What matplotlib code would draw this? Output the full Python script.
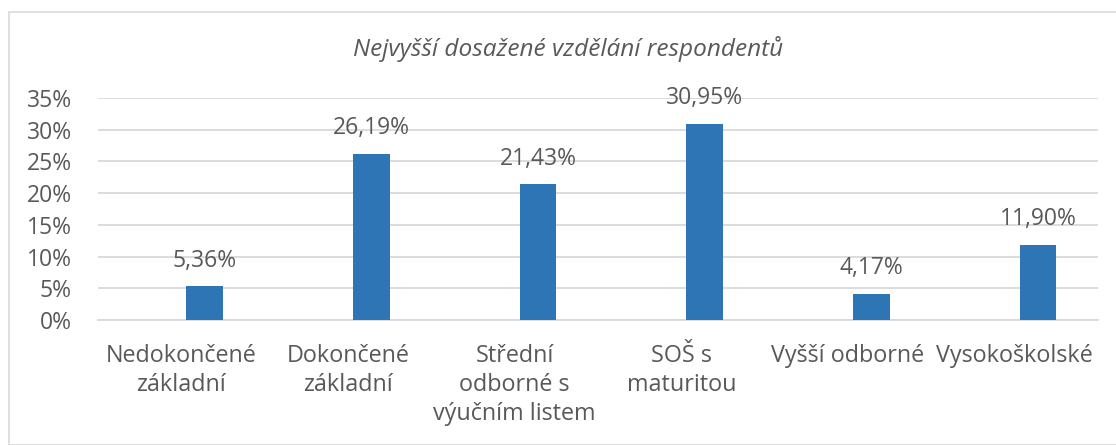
import matplotlib
matplotlib.use("Agg")
import matplotlib.pyplot as plt
from matplotlib.patches import Rectangle

plt.rcParams['font.family'] = ['Open Sans', 'DejaVu Sans']

categories = ["Nedokončené\nzákladní", "Dokončené\nzákladní", "Střední\nodborné s\nvýučním listem",
              "SOŠ s\nmaturitou", "Vyšší odborné", "Vysokoškolské"]
values = [5.36, 26.19, 21.43, 30.95, 4.17, 11.90]
yticks = [0, 5, 10, 15, 20, 25, 30, 35]
title = "Nejvyšší dosažené vzdělání respondentů"

text_col = "#595959"
bar_col = "#2E75B6"
grid_col = "#D9D9D9"

fig = plt.figure(figsize=(11.16, 4.45), dpi=100)
fig.patches.append(Rectangle((9 / 1116, 0), 2, 1 - 12 / 445, transform=fig.transFigure,
                             fill=False, edgecolor="#D9D9D9", linewidth=1.2))
ax = fig.add_axes([98 / 1116, 1 - 320 / 445, 1000 / 1116, 222 / 445])

x = list(range(len(values)))
xb = [i + 0.14 for i in x]
ax.bar(xb, values, width=0.22, color=bar_col, zorder=3)
for xi, v in zip(xb, values):
    ax.annotate(f"{v:.2f}".replace(".", ",") + "%", (xi, v), xytext=(0, 14),
                textcoords="offset points", ha="center", va="baseline",
                fontsize=16.5, color=text_col)

ax.set_xlim(-0.5, 5.5)
ax.set_ylim(0, 35)
ax.set_yticks(yticks)
ax.set_yticklabels([f"{t}%" for t in yticks])
ax.set_xticks(x)
ax.set_xticklabels(categories, linespacing=1.3)
ax.tick_params(axis="y", length=0, pad=19, labelsize=16.5, labelcolor=text_col)
ax.tick_params(axis="x", length=0, pad=17, labelsize=16.8, labelcolor=text_col)
ax.yaxis.grid(True, color=grid_col, linewidth=1.3, zorder=0)
for s in ["top", "right", "left"]:
    ax.spines[s].set_visible(False)
ax.spines["bottom"].set_color(grid_col)
ax.spines["bottom"].set_linewidth(1.3)

fig.text(0.509, 1 - 56 / 445, title, ha="center", va="baseline", fontsize=17.6,
         style="italic", color=text_col)

fig.savefig("out.png", dpi=100)
